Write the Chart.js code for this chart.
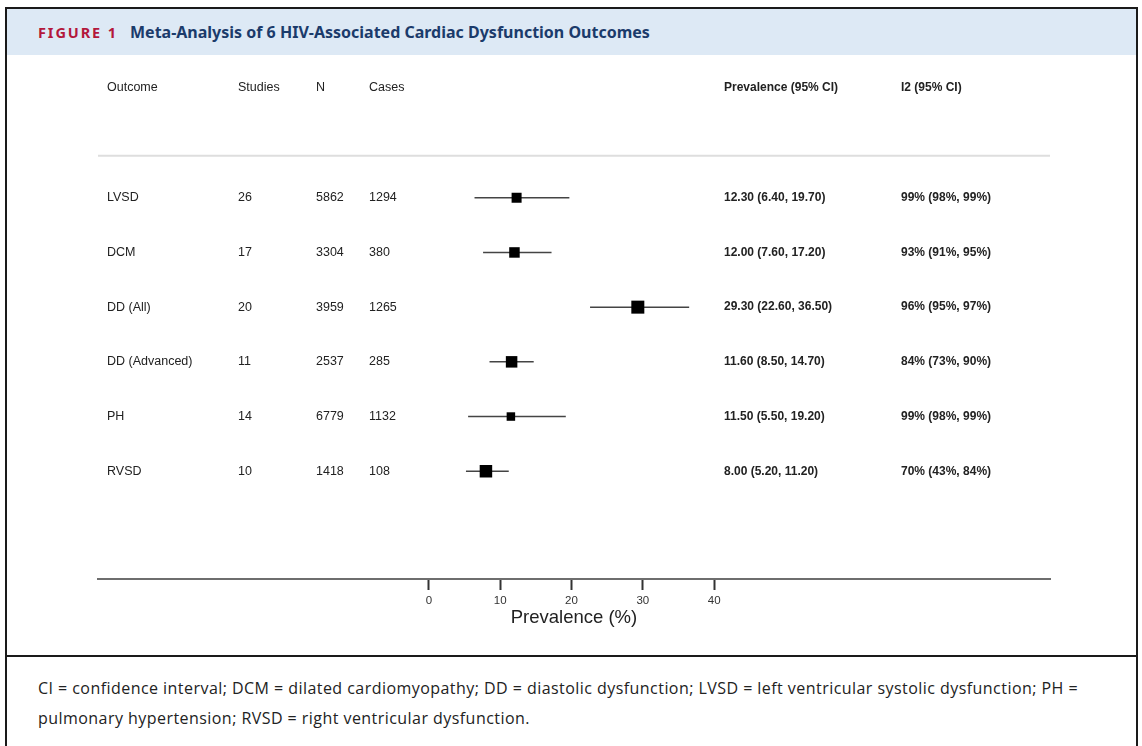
<!DOCTYPE html>
<html>
<head>
<meta charset="utf-8">
<script src="https://cdn.jsdelivr.net/npm/chart.js@4.4.1/dist/chart.umd.min.js"></script>
<style>
    html, body { margin: 0; padding: 0; background: #fff; }
    body { width: 1142px; height: 746px; position: relative; overflow: hidden; }
    #frame { position: absolute; left: 5px; top: 7px; width: 1129px; height: 760px; border: 2px solid #1a1a1a; border-bottom: none; z-index: 2; pointer-events: none; }
    #header { position: absolute; left: 7px; top: 9px; width: 1129px; height: 46px; background: #dde9f5; }
    #header .fig { position: absolute; left: 31px; top: 13px; font: bold 14.5px "Noto Sans", sans-serif; letter-spacing: 1.9px; color: #b3173b; }
    #header .title { position: absolute; left: 123px; top: 12px; font: bold 16px "Noto Sans", sans-serif; color: #1b3b6b; }
    #divider { position: absolute; left: 7px; top: 655px; width: 1129px; height: 2px; background: #1a1a1a; }
    #caption { position: absolute; left: 38px; top: 673px; width: 1090px; font: 16px "Open Sans", sans-serif; letter-spacing: 0.45px; line-height: 30px; color: #222; white-space: nowrap; }
    #wrap { position: absolute; left: 0; top: 56px; width: 1142px; height: 598px; }
</style>
</head>
<body>
<div id="header"><span class="fig">FIGURE 1</span><span class="title">Meta-Analysis of 6 HIV-Associated Cardiac Dysfunction Outcomes</span></div>
<div id="wrap"><canvas id="forestChart"></canvas></div>
<div id="divider"></div>
<div id="caption">CI = confidence interval; DCM = dilated cardiomyopathy; DD = diastolic dysfunction; LVSD = left ventricular systolic dysfunction; PH =<br>pulmonary hypertension; RVSD = right ventricular dysfunction.</div>
<div id="frame"></div>

<script>
// ========== DỮ LIỆU ==========
const outcomes = ['LVSD', 'DCM', 'DD (All)', 'DD (Advanced)', 'PH', 'RVSD'];
const studies = [26, 17, 20, 11, 14, 10];
const totalN = [5862, 3304, 3959, 2537, 6779, 1418];
const cases = [1294, 380, 1265, 285, 1132, 108];
const prevalence = [12.30, 12.00, 29.30, 11.60, 11.50, 8.00];
const ciLow = [6.40, 7.60, 22.60, 8.50, 5.50, 5.20];
const ciHigh = [19.70, 17.20, 36.50, 14.70, 19.20, 11.20];
const i2 = [99, 93, 96, 84, 99, 70];
const i2Low = [98, 91, 95, 73, 98, 43];
const i2High = [99, 95, 97, 90, 99, 84];
const xTicks = [0, 10, 20, 30, 40];
const headers = ['Outcome', 'Studies', 'N', 'Cases', 'Prevalence (95% CI)', 'I2 (95% CI)'];

// ========== STYLE / LAYOUT ==========
const boxSide = [10, 10.5, 13, 11.5, 8.5, 12.5];   // cạnh ô vuông (px)
const colX = [107, 238, 316, 369, 724, 901];
const headerRow = -2.02;
const ruleRow = -0.77;
const textFont = '12.5px "Liberation Sans", Arial, sans-serif';
const boldFont = 'bold 12px "Liberation Sans", Arial, sans-serif';

const fmt2 = v => v.toFixed(2);

const tablePlugin = {
    id: 'forestTable',
    afterDraw(chart) {
        const { ctx } = chart;
        const yScale = chart.scales.y;
        ctx.save();
        ctx.textBaseline = 'middle';
        ctx.fillStyle = '#222';

        // header
        const hy = yScale.getPixelForValue(headerRow);
        headers.forEach((h, c) => {
            ctx.font = c >= 4 ? boldFont : textFont;
            ctx.fillText(h, colX[c], hy);
        });

        // separator under header
        const ry = yScale.getPixelForValue(ruleRow);
        ctx.strokeStyle = '#dedede';
        ctx.lineWidth = 2;
        ctx.beginPath();
        ctx.moveTo(chart.chartArea.left, ry);
        ctx.lineTo(chart.chartArea.right, ry);
        ctx.stroke();

        // rows
        outcomes.forEach((name, i) => {
            const y = yScale.getPixelForValue(i);
            const cells = [
                name,
                String(studies[i]),
                String(totalN[i]),
                String(cases[i]),
                `${fmt2(prevalence[i])} (${fmt2(ciLow[i])}, ${fmt2(ciHigh[i])})`,
                `${i2[i]}% (${i2Low[i]}%, ${i2High[i]}%)`
            ];
            cells.forEach((t, c) => {
                ctx.font = c >= 4 ? boldFont : textFont;
                ctx.fillText(t, colX[c], y);
            });
        });
        ctx.restore();
    }
};

const ciDatasets = outcomes.map((name, i) => ({
    type: 'line',
    label: name + ' CI',
    data: [{ x: ciLow[i], y: i }, { x: ciHigh[i], y: i }],
    borderColor: '#444',
    borderWidth: 1.5,
    pointRadius: 0,
    order: 2
}));

const ctx = document.getElementById('forestChart').getContext('2d');
const forestChart = new Chart(ctx, {
    type: 'scatter',
    data: {
        datasets: [
            ...ciDatasets,
            {
                label: 'Prevalence',
                data: prevalence.map((p, i) => ({ x: p, y: i })),
                pointStyle: 'rect',
                pointRadius: boxSide.map(s => s / Math.SQRT2),
                pointHoverRadius: boxSide.map(s => s / Math.SQRT2),
                backgroundColor: '#000',
                borderWidth: 0,
                order: 1
            }
        ]
    },
    options: {
        responsive: true,
        maintainAspectRatio: false,
        animation: false,
        layout: { autoPadding: false, padding: { left: 98, right: 92, top: 5, bottom: 0 } },
        plugins: {
            legend: { display: false },
            tooltip: { enabled: false }
        },
        scales: {
            x: {
                type: 'linear',
                position: 'bottom',
                min: -46.4,
                max: 87.1,
                afterBuildTicks: scale => { scale.ticks = xTicks.map(v => ({ value: v })); },
                afterFit: scale => { scale.height = 75; },
                ticks: {
                    font: { family: '"Liberation Sans", Arial, sans-serif', size: 11.5 },
                    color: '#333',
                    padding: 4,
                    maxRotation: 0,
                    callback: v => String(v)
                },
                grid: { drawOnChartArea: false, color: '#333', tickLength: 11, tickWidth: 2 },
                border: { display: true, color: '#6e6e6e', width: 2 },
                title: {
                    display: true,
                    text: 'Prevalence (%)',
                    color: '#222',
                    font: { family: '"Liberation Sans", Arial, sans-serif', size: 18.5 },
                    padding: { top: 0, bottom: 25 }
                }
            },
            y: {
                type: 'linear',
                display: false,
                reverse: true,
                min: -2.5,
                max: 6.97
            }
        }
    },
    plugins: [tablePlugin]
});
</script>
</body>
</html>
